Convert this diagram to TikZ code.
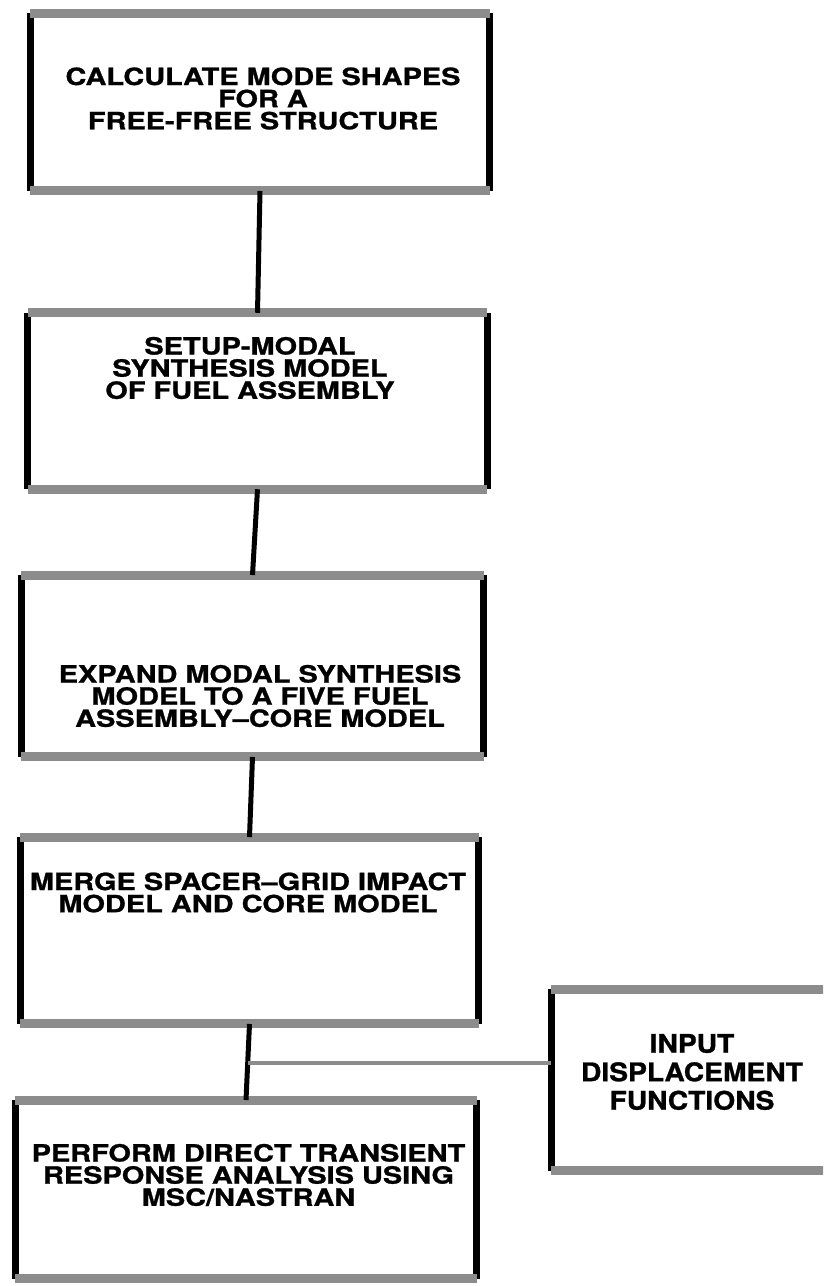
\documentclass[tikz,border=0pt]{standalone}
\usepackage{fontspec}
\usepackage{tikz}
\newfontfamily\stagefont{TeX Gyre Heros}[FakeStretch=1.22, FakeBold=1]
\newfontfamily\inputfont{TeX Gyre Heros}[FakeStretch=1.1, FakeBold=1]
\definecolor{bargray}{gray}{0.55}

\begin{document}
\begin{tikzpicture}[x=0.02cm, y=-0.02cm,
        stage/.style={inner sep=0pt, outer sep=0pt},
        stagetext/.style={align=center, inner sep=0pt,
          font=\stagefont\bfseries\fontsize{13.5}{12.6}\selectfont},
        bar/.style={line width=0.18cm, bargray},
        side/.style={line width=0.14cm, black},
        link/.style={line width=0.1cm, black},
        feed/.style={line width=0.08cm, bargray}]

        \useasboundingbox (0,0) rectangle (823,1286);
        \clip (0,0) rectangle (823,1286);

        %Boxes
        \node [stage, minimum width=9.2cm, minimum height=3.56cm] (calc) at (260,102) {};
        \node [stage, minimum width=9.2cm, minimum height=3.53cm] (setup) at (257.5,401) {};
        \node [stage, minimum width=9.26cm, minimum height=3.64cm] (expand) at (252.5,666) {};
        \node [stage, minimum width=9.18cm, minimum height=3.74cm] (merge) at (249.5,930.5) {};
        \node [stage, minimum width=9.24cm, minimum height=3.58cm] (perform) at (246,1189.5) {};
        \node [stage, minimum width=5.78cm, minimum height=3.64cm] (input) at (695.5,1080) {};

        %Box edges
        \foreach \n in {calc,setup,expand,merge,perform,input} {
          \draw [side] (\n.north west) -- (\n.south west);
          \draw [side] (\n.north east) -- (\n.south east);
          \draw [bar] (\n.north west) -- (\n.north east);
          \draw [bar] (\n.south west) -- (\n.south east);
        }

        %Texts
        \node [stagetext] (calc text) at (263,98.5)
          {CALCULATE MODE SHAPES\\FOR A\\FREE-FREE STRUCTURE};
        \node [stagetext] (setup text) at (250,368)
          {SETUP-MODAL\\SYNTHESIS MODEL\\OF FUEL ASSEMBLY};
        \node [stagetext] (expand text) at (260,696)
          {EXPAND MODAL SYNTHESIS\\MODEL TO A FIVE FUEL\\ASSEMBLY\textendash CORE MODEL};
        \node [stagetext] (merge text) at (248,892.5)
          {MERGE SPACER\textendash GRID IMPACT\\MODEL AND CORE MODEL};
        \node [stagetext] (perform text) at (248.5,1175)
          {PERFORM DIRECT TRANSIENT\\RESPONSE ANALYSIS USING\\MSC/NASTRAN};
        \node [align=center, inner sep=0pt,
          font=\inputfont\bfseries\fontsize{14.6}{16.2}\selectfont] (input text) at (692,1072)
          {INPUT\\DISPLACEMENT\\FUNCTIONS};

        %Connectors
        \draw [link] (calc.south) -- (setup.north);
        \draw [link] (setup.south) -- (expand.north);
        \draw [link] (expand.south) -- (merge.north);
        \draw [link] (merge.south) -- (perform.north);
        \coordinate (tee) at (248,1063);
        \draw [feed] (tee) -- (tee -| input.west);

\end{tikzpicture}
\end{document}
